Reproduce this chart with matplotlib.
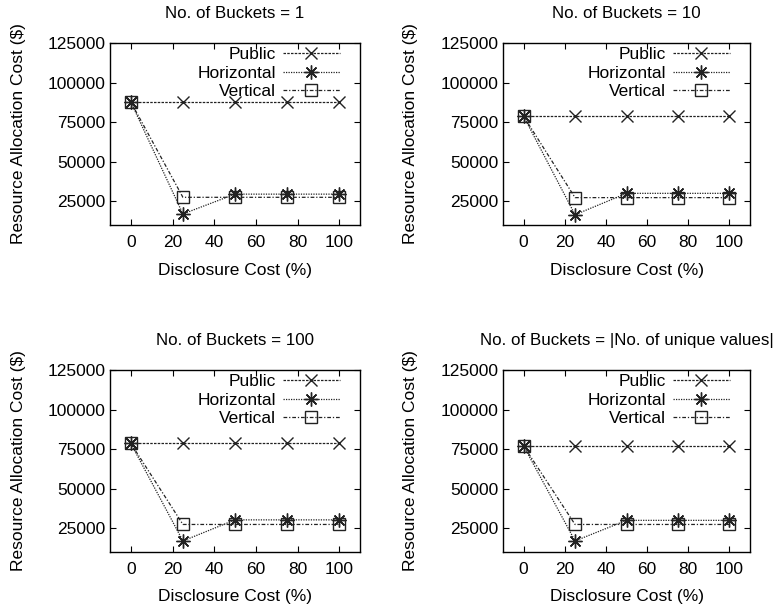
import matplotlib
matplotlib.use('Agg')
import matplotlib.pyplot as plt

plt.rcParams['font.family'] = ['Liberation Sans', 'DejaVu Sans']
plt.rcParams['font.size'] = 12.5

# data
disclosure = [0, 25, 50, 75, 100]
titles = ['No. of Buckets = 1', 'No. of Buckets = 10',
          'No. of Buckets = 100', 'No. of Buckets = |No. of unique values|']
public = [
    [87700, 87700, 87700, 87700, 87700],
    [78700, 78700, 78700, 78700, 78700],
    [78600, 78600, 78600, 78600, 78600],
    [77000, 77000, 77000, 77000, 77000],
]
horizontal = [
    [87700, 17000, 29500, 29500, 29500],
    [78700, 16500, 30000, 30000, 30000],
    [78600, 17000, 30300, 30300, 30300],
    [77000, 17000, 30000, 30000, 30000],
]
vertical = [
    [87700, 27500, 27500, 27500, 27500],
    [78700, 27300, 27300, 27300, 27300],
    [78600, 27400, 27400, 27400, 27400],
    [77000, 27400, 27400, 27400, 27400],
]
yticks = [25000, 50000, 75000, 100000, 125000]
xticks = [0, 20, 40, 60, 80, 100]

W, H = 778, 615
fig = plt.figure(figsize=(W / 100, H / 100), dpi=100)

# axes boxes in pixels: left, top, width, height
boxes = [(110, 43, 250, 182), (503, 43, 247, 182),
         (110, 370, 250, 182), (503, 370, 247, 182)]

for i, (l, t, w, h) in enumerate(boxes):
    ax = fig.add_axes([l / W, 1 - (t + h) / H, w / W, h / H])
    ax.plot(disclosure, public[i], color='#222222', linestyle=(0, (2, 1)), lw=0.9,
            marker='x', markersize=9, markeredgewidth=1.0, label='Public')
    ax.plot(disclosure, horizontal[i], color='#222222', linestyle=(0, (1, 1)), lw=0.9,
            marker=(8, 2, 0), markersize=10, markeredgewidth=1.0, label='Horizontal')
    ax.plot(disclosure, vertical[i], color='#222222', linestyle=(0, (3, 1.5, 1, 1.5)), lw=0.9,
            marker='s', markersize=9, markerfacecolor='none', markeredgewidth=1.0,
            label='Vertical')
    ax.set_xlim(-10, 110)
    ax.set_ylim(10000, 125000)
    ax.set_xticks(xticks)
    ax.set_yticks(yticks)
    ax.tick_params(direction='in', top=True, right=True, length=4, width=0.8)
    ax.tick_params(axis='x', pad=7)
    for s in ax.spines.values():
        s.set_linewidth(1.0)
    ax.set_title(titles[i], fontsize=12.2, pad=18)
    ax.set_xlabel('Disclosure Cost (%)')
    ax.set_ylabel('Resource Allocation Cost ($)')
    ax.xaxis.set_label_coords(0.5, -45 / h)
    ax.xaxis.label.set_va('center')
    ax.yaxis.set_label_coords(-((l - (18 if l < 400 else 410)) / w), 0.5)
    ax.yaxis.label.set_va('center')
    ax.legend(loc='upper right', bbox_to_anchor=(1 - 20 / w, 1 - 4 / h),
              frameon=False, markerfirst=False,
              handlelength=3.3, labelspacing=0.2, borderaxespad=0.0,
              handletextpad=0.4, fontsize=12.5, borderpad=0.0)

plt.savefig('out.png', dpi=100)
